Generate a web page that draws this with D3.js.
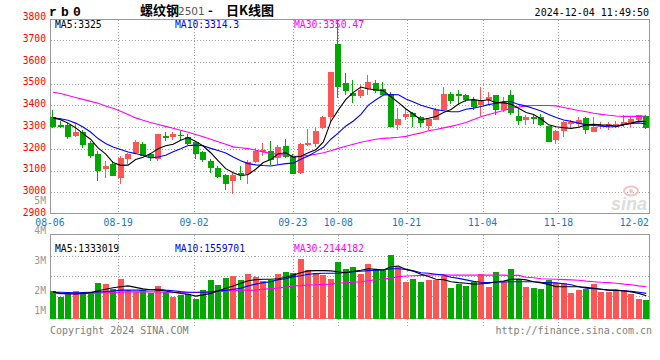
<!DOCTYPE html>
<html><head><meta charset="utf-8">
<script src="https://cdn.jsdelivr.net/npm/d3@7"></script>
<style>html,body{margin:0;padding:0;background:#fff;}svg{display:block;}</style>
</head><body><svg id="c" width="660" height="360"></svg>
<script>
// ---------- DATA ----------
const dates = ["08-06","08-07","08-08","08-09","08-12","08-13","08-14","08-15","08-16","08-19","08-20","08-21","08-22","08-23","08-26","08-27","08-28","08-29","08-30",
"09-02","09-03","09-04","09-05","09-06","09-09","09-10","09-11","09-12","09-13","09-18","09-19","09-20","09-23","09-24","09-25","09-26","09-27","09-30",
"10-08","10-09","10-10","10-11","10-14","10-15","10-16","10-17","10-18","10-21","10-22","10-23","10-24","10-25","10-28","10-29","10-30","10-31",
"11-01","11-04","11-05","11-06","11-07","11-08","11-11","11-12","11-13","11-14","11-15","11-18","11-19","11-20","11-21","11-22","11-25","11-26","11-27","11-28","11-29",
"12-02","12-03","12-04"];
const open  = [3346,3308,3308,3257,3279,3225,3177,3107,3128,3065,3151,3181,3223,3174,3154,3261,3252,3263,3252,3229,3185,3145,3112,3078,3050,3091,3083,3138,3186,3192,3157,3213,3167,3088,3218,3222,3297,3345,3682,3504,3455,3444,3473,3504,3473,3452,3310,3348,3363,3345,3307,3334,3377,3451,3451,3446,3426,3400,3423,3446,3380,3446,3350,3331,3344,3347,3304,3242,3282,3316,3316,3341,3277,3305,3304,3309,3308,3315,3331,3352];
const high  = [3376,3328,3318,3320,3287,3237,3188,3142,3143,3165,3181,3240,3229,3183,3270,3279,3275,3282,3267,3237,3190,3155,3120,3085,3095,3121,3149,3202,3225,3236,3218,3244,3176,3225,3291,3302,3351,3555,3785,3547,3516,3493,3539,3516,3509,3463,3389,3383,3371,3351,3340,3388,3485,3462,3469,3454,3436,3485,3462,3446,3439,3469,3385,3354,3362,3362,3304,3285,3328,3331,3344,3346,3346,3323,3321,3327,3353,3346,3357,3353];
const low   = [3294,3297,3247,3252,3204,3157,3053,3066,3074,3038,3128,3176,3165,3146,3142,3234,3242,3240,3217,3154,3140,3088,3065,3010,2991,3057,3039,3134,3167,3126,3126,3157,3085,3085,3213,3210,3291,3325,3435,3447,3412,3432,3447,3455,3447,3302,3287,3333,3302,3302,3287,3331,3377,3408,3400,3416,3380,3350,3400,3354,3370,3354,3308,3308,3316,3304,3232,3221,3255,3301,3301,3270,3277,3290,3287,3295,3302,3302,3326,3290];
const close = [3302,3300,3252,3278,3219,3169,3100,3119,3076,3156,3174,3232,3169,3157,3266,3248,3267,3257,3222,3174,3147,3110,3072,3040,3079,3080,3141,3192,3195,3149,3210,3164,3085,3222,3227,3282,3346,3555,3486,3466,3444,3470,3507,3467,3447,3302,3337,3360,3348,3317,3337,3380,3451,3420,3443,3423,3393,3426,3439,3380,3416,3365,3328,3344,3338,3308,3232,3282,3324,3324,3334,3285,3300,3309,3312,3313,3323,3335,3353,3295];
const ma5   = [3342,3334,3318,3297,3270,3244,3204,3177,3137,3124,3125,3151,3161,3178,3200,3214,3221,3239,3252,3234,3213,3182,3145,3109,3090,3076,3082,3106,3137,3151,3177,3182,3161,3166,3182,3196,3232,3326,3379,3427,3459,3484,3475,3471,3467,3439,3412,3383,3359,3333,3340,3348,3367,3381,3406,3423,3426,3421,3425,3412,3411,3405,3386,3367,3358,3337,3310,3301,3297,3294,3299,3310,3313,3310,3308,3304,3311,3318,3327,3325];
const ma10  = [3343,3338,3331,3318,3300,3277,3247,3224,3208,3197,3185,3178,3169,3158,3162,3170,3186,3200,3215,3217,3214,3202,3192,3181,3162,3145,3132,3126,3123,3121,3127,3132,3134,3152,3167,3187,3207,3244,3273,3305,3328,3358,3401,3425,3447,3449,3448,3429,3415,3400,3390,3380,3375,3370,3370,3382,3387,3394,3403,3409,3417,3416,3404,3396,3385,3374,3358,3344,3332,3326,3318,3310,3307,3304,3301,3302,3311,3316,3319,3314.3];
const ma30  = [3460,3454,3445,3436,3427,3418,3409,3397,3386,3372,3358,3342,3331,3321,3312,3303,3294,3285,3276,3266,3255,3244,3232,3221,3209,3205,3201,3193,3186,3179,3175,3170,3166,3166,3170,3175,3182,3191,3202,3212,3221,3230,3237,3244,3248,3250,3253,3257,3266,3273,3283,3289,3296,3303,3312,3321,3335,3347,3358,3367,3376,3386,3392,3397,3399,3399,3399,3397,3390,3383,3376,3370,3363,3358,3354,3351,3349,3349,3349,3350.47];
// volume in millions (read against the M axis labels)
const volume = [2.00,1.80,1.93,1.99,1.91,1.97,2.27,2.23,2.05,2.40,2.02,1.97,2.02,1.91,2.17,1.97,1.80,1.85,1.88,1.73,2.02,2.36,2.19,2.42,2.50,2.36,2.57,2.46,2.33,2.36,2.57,2.62,2.59,3.06,2.70,2.59,2.54,2.39,2.96,2.73,2.79,2.56,2.89,2.72,2.69,3.19,2.80,2.29,2.39,2.29,2.36,2.36,2.49,2.09,2.22,2.16,2.29,2.56,2.12,2.62,2.29,2.72,2.39,2.12,2.09,2.06,2.36,2.26,2.26,1.92,2.02,2.06,2.22,1.96,1.96,2.02,2.02,1.89,1.72,1.69];
const vma5  = [1.96,1.91,1.90,1.89,1.91,1.93,2.00,2.05,2.10,2.13,2.16,2.11,2.06,2.03,2.02,1.99,1.95,1.91,1.88,1.82,1.86,1.91,2.00,2.08,2.16,2.25,2.33,2.37,2.38,2.38,2.40,2.45,2.52,2.60,2.66,2.67,2.67,2.66,2.63,2.60,2.65,2.68,2.73,2.71,2.69,2.80,2.82,2.71,2.65,2.55,2.47,2.38,2.37,2.30,2.27,2.25,2.22,2.23,2.25,2.30,2.32,2.38,2.39,2.36,2.30,2.26,2.21,2.13,2.13,2.13,2.13,2.11,2.08,2.05,2.02,2.02,1.99,1.96,1.91,1.83];
const vma10 = [1.95,1.95,1.94,1.93,1.94,1.95,1.96,1.97,1.99,2.02,2.02,2.02,2.02,2.03,2.05,2.02,2.00,1.97,1.95,1.95,1.95,1.96,1.99,2.01,2.05,2.08,2.16,2.22,2.27,2.30,2.37,2.40,2.47,2.50,2.55,2.57,2.58,2.58,2.58,2.61,2.63,2.65,2.67,2.68,2.70,2.73,2.73,2.71,2.66,2.60,2.58,2.55,2.52,2.45,2.41,2.36,2.31,2.28,2.27,2.28,2.29,2.30,2.30,2.30,2.30,2.28,2.27,2.26,2.23,2.20,2.13,2.08,2.07,2.05,2.02,2.01,2.00,1.98,1.95,1.91];
const vma30 = [1.91,1.90,1.90,1.89,1.90,1.91,1.92,1.93,1.94,1.95,1.96,1.96,1.97,1.96,1.96,1.95,1.95,1.94,1.93,1.94,1.95,1.96,1.97,1.99,2.01,2.02,2.02,2.02,2.05,2.07,2.09,2.12,2.16,2.17,2.19,2.20,2.21,2.22,2.25,2.27,2.28,2.30,2.33,2.37,2.39,2.42,2.47,2.49,2.50,2.51,2.52,2.53,2.53,2.52,2.52,2.52,2.52,2.52,2.52,2.52,2.52,2.51,2.51,2.45,2.43,2.40,2.39,2.38,2.37,2.36,2.35,2.32,2.30,2.28,2.27,2.25,2.22,2.20,2.16,2.13];
const priceTicks = [3800,3700,3600,3500,3400,3300,3200,3100,3000,2900];
const volTicks = [5,4,3,2,1];
const dateTicks = ["08-06","08-19","09-02","09-23","10-08","10-21","11-04","11-18","12-02"];
const gridDates = ["08-19","09-02","09-23","10-08","10-21","11-04","11-18"];
const legendPrice = [["MA5:3325","#000"],["MA10:3314.3","#0000ff"],["MA30:3350.47","#ff00ff"]];
const legendVol = [["MA5:1333019","#000"],["MA10:1559701","#0000ff"],["MA30:2144182","#ff00ff"]];

// ---------- LAYOUT ----------
const svg = d3.select("#c");
const L = 50.5, R = 649.5, pTop = 19.5, pBot = 213.5, vTop = 234.5, vBot = 318.5;
const UP = "#ff5555", DOWN = "#00a800";
const MONO = "'DejaVu Sans Mono', monospace";
const n = dates.length;
const x  = d3.scaleLinear().domain([0, n - 1]).range([53, 646.3]);
const gx = d3.scaleLinear().domain([0, n - 1]).range([49.9, 649.5]);
const y  = d3.scaleLinear().domain([2900, 3800]).range([214.1, 18.2]);
const yv = d3.scaleLinear().domain([1, 4]).range([320.7, 230.7]);
const idx = d => dates.indexOf(d);

svg.append("rect").attr("width", 660).attr("height", 360).attr("fill", "#fff");

const dot = g => g.attr("stroke", "#a0a0a0").attr("stroke-width", 1).attr("stroke-dasharray", "1,2").attr("shape-rendering", "crispEdges");

// horizontal price grid
svg.append("g").selectAll("line").data(priceTicks.filter(v => v > 2900 && v < 3800)).join("line")
  .attr("x1", L).attr("x2", R).attr("y1", d => Math.round(y(d)) + 0.5).attr("y2", d => Math.round(y(d)) + 0.5).call(dot);
// horizontal volume grid
svg.append("g").selectAll("line").data([0.25, 0.49, 0.73]).join("line")
  .attr("x1", L).attr("x2", R)
  .attr("y1", f => Math.round(vTop + (vBot - vTop) * f) + 0.5).attr("y2", f => Math.round(vTop + (vBot - vTop) * f) + 0.5).call(dot);
// vertical grid
const vg = svg.append("g");
vg.selectAll("line.p").data(gridDates).join("line").attr("class", "p")
  .attr("x1", d => Math.round(gx(idx(d))) + 0.5).attr("x2", d => Math.round(gx(idx(d))) + 0.5)
  .attr("y1", pTop).attr("y2", pBot).call(dot);
vg.selectAll("line.v").data(gridDates).join("line").attr("class", "v")
  .attr("x1", d => Math.round(gx(idx(d))) + 0.5).attr("x2", d => Math.round(gx(idx(d))) + 0.5)
  .attr("y1", vTop).attr("y2", vBot + 8).call(dot);

// sina watermark
const wm = svg.append("g");
wm.append("ellipse").attr("cx", 631).attr("cy", 191).attr("rx", 7).attr("ry", 4.5).attr("fill", "none").attr("stroke", "#f3c4c4").attr("stroke-width", 2);
wm.append("circle").attr("cx", 631).attr("cy", 191).attr("r", 2).attr("fill", "#f3c4c4");
wm.append("text").attr("x", 611).attr("y", 210).attr("font-family", "'Liberation Sans', Arial, sans-serif")
  .attr("font-size", 18).attr("font-weight", "bold").attr("font-style", "italic").attr("fill", "#dcdcdc").text("sina");

// boxes
svg.append("rect").attr("x", L).attr("y", pTop).attr("width", R - L).attr("height", pBot - pTop)
  .attr("fill", "none").attr("stroke", "#999").attr("shape-rendering", "crispEdges");
svg.append("rect").attr("x", L).attr("y", vTop).attr("width", R - L).attr("height", vBot - vTop)
  .attr("fill", "none").attr("stroke", "#999").attr("shape-rendering", "crispEdges");

// candles
const data = dates.map((d, i) => ({ i, o: open[i], h: high[i], l: low[i], c: close[i], v: volume[i] }));
const col = d => d.c >= d.o ? UP : DOWN;
const cg = svg.append("g").attr("shape-rendering", "crispEdges");
cg.selectAll("line").data(data).join("line")
  .attr("x1", d => Math.round(x(d.i)) - 0.5).attr("x2", d => Math.round(x(d.i)) - 0.5)
  .attr("y1", d => y(d.h)).attr("y2", d => y(d.l)).attr("stroke", col);
cg.selectAll("rect").data(data).join("rect")
  .attr("x", d => Math.round(x(d.i)) - 3).attr("width", 6)
  .attr("y", d => y(Math.max(d.o, d.c))).attr("height", d => Math.max(1, Math.abs(y(d.o) - y(d.c))))
  .attr("fill", col);

// volume bars
svg.append("g").attr("shape-rendering", "crispEdges").selectAll("rect").data(data).join("rect")
  .attr("x", d => Math.round(x(d.i)) - 3).attr("width", 6)
  .attr("y", d => yv(d.v)).attr("height", d => vBot - yv(d.v)).attr("fill", col);

// MA lines
const lp = d3.line().x((d, i) => x(i)).y(d => y(d));
const lv = d3.line().x((d, i) => x(i)).y(d => yv(d));
[[ma30, "#ff00ff"], [ma10, "#0000ff"], [ma5, "#000"]].forEach(([s, c]) =>
  svg.append("path").attr("d", lp(s)).attr("fill", "none").attr("stroke", c).attr("stroke-width", 1.1));
[[vma30, "#ff00ff"], [vma10, "#0000ff"], [vma5, "#000"]].forEach(([s, c]) =>
  svg.append("path").attr("d", lv(s)).attr("fill", "none").attr("stroke", c).attr("stroke-width", 1.1));

// price axis labels
svg.append("g").selectAll("text").data(priceTicks).join("text")
  .attr("x", 46).attr("y", d => y(d) + 1.8).attr("text-anchor", "end")
  .attr("font-family", MONO).attr("font-size", 9.7).attr("fill", "#ff0000").text(d => d);
// volume axis labels
svg.append("g").selectAll("text").data(volTicks).join("text")
  .attr("x", 46).attr("y", d => Math.min(yv(d), vBot - 8) + 3.6).attr("text-anchor", "end")
  .attr("font-family", MONO).attr("font-size", 9.7).attr("fill", "#999").text(d => d + "M");
// date labels
svg.append("g").selectAll("text").data(dateTicks).join("text")
  .attr("x", d => gx(idx(d))).attr("y", 226).attr("text-anchor", "middle")
  .attr("font-family", MONO).attr("font-size", 9.7).attr("fill", "#1478c8").text(d => d);

// legends
const lx = [55, 175, 294];
svg.append("g").selectAll("text").data(legendPrice).join("text")
  .attr("x", (d, i) => lx[i]).attr("y", 27.5).attr("font-family", MONO).attr("font-size", 9.7)
  .attr("fill", d => d[1]).text(d => d[0]);
svg.append("g").selectAll("text").data(legendVol).join("text")
  .attr("x", (d, i) => lx[i]).attr("y", 252).attr("font-family", MONO).attr("font-size", 9.7)
  .attr("fill", d => d[1]).text(d => d[0]);

// header
svg.append("text").attr("x", 49).attr("y", 15.5).attr("font-family", "'Liberation Mono', monospace")
  .attr("font-size", 13).attr("font-weight", "bold").attr("letter-spacing", 4.2).attr("fill", "#000").text("rb0");
const CJK = "'Noto Sans CJK SC', sans-serif";
svg.append("text").attr("x", 140).attr("y", 15).attr("font-family", CJK).attr("font-size", 13)
  .attr("font-weight", "bold").attr("fill", "#000").text("螺纹钢");
svg.append("text").attr("x", 178).attr("y", 15).attr("font-family", "'DejaVu Sans', sans-serif")
  .attr("font-size", 10.5).attr("fill", "#555").text("2501");
svg.append("text").attr("x", 210.5).attr("y", 15).attr("text-anchor", "middle").attr("font-family", CJK)
  .attr("font-size", 13).attr("font-weight", "bold").attr("fill", "#000").text("-");
svg.append("text").attr("x", 226).attr("y", 15).attr("font-family", CJK).attr("font-size", 13)
  .attr("font-weight", "bold").attr("fill", "#000").text("日K线图");
svg.append("text").attr("x", 649).attr("y", 16).attr("text-anchor", "end").attr("font-family", MONO)
  .attr("font-size", 10).attr("fill", "#000").text("2024-12-04 11:49:50");

// footer
svg.append("text").attr("x", 50).attr("y", 334).attr("font-family", MONO).attr("font-size", 10)
  .attr("fill", "#808080").text("Copyright 2024 SINA.COM");
svg.append("text").attr("x", 652).attr("y", 334).attr("text-anchor", "end").attr("font-family", MONO)
  .attr("font-size", 10).attr("fill", "#808080").text("http://finance.sina.com.cn");
</script></body></html>
